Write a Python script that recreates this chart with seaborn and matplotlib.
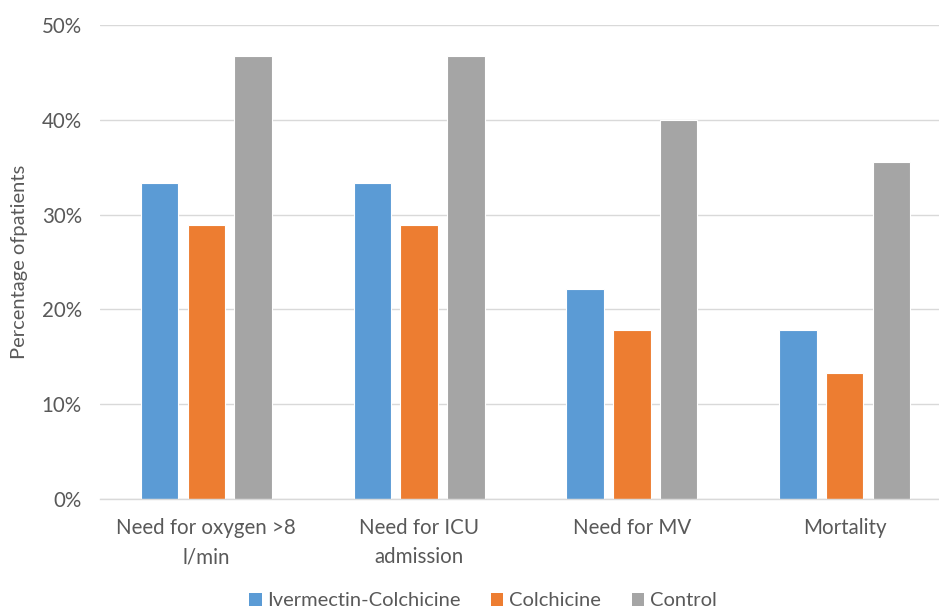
import matplotlib
matplotlib.use("Agg")
import matplotlib.pyplot as plt
import seaborn as sns
import pandas as pd
from matplotlib.ticker import PercentFormatter
from matplotlib.patches import Patch

categories = ["Need for oxygen >8\nl/min", "Need for ICU\nadmission", "Need for MV", "Mortality"]
series_names = ["Ivermectin-Colchicine", "Colchicine", "Control"]
ivermectin_colchicine = [0.333, 0.333, 0.222, 0.178]
colchicine = [0.289, 0.289, 0.178, 0.133]
control = [0.467, 0.467, 0.400, 0.356]
colors = ["#5B9BD5", "#ED7D31", "#A5A5A5"]
yticks = [0, 0.1, 0.2, 0.3, 0.4, 0.5]

rows = []
for name, vals in zip(series_names, [ivermectin_colchicine, colchicine, control]):
    for c, v in zip(categories, vals):
        rows.append({"category": c, "group": name, "value": v})
df = pd.DataFrame(rows)

sns.set_theme(style="white")
plt.rcParams["font.family"] = ["Lato", "DejaVu Sans"]
text_color = "#595959"

fig = plt.figure(figsize=(9.39, 6.10), dpi=100)
ax = fig.add_axes([100/939, 1-499/610, 851/939, (499-25)/610])

sns.barplot(data=df, x="category", y="value", hue="group", order=categories,
            hue_order=series_names, palette=colors, width=0.66, gap=0.2,
            ax=ax, legend=False, saturation=1, edgecolor="white", linewidth=0.8)

ax.set_ylim(0, 0.5)
ax.set_xlim(-0.5, 3.5)
ax.set_yticks(yticks)
ax.yaxis.set_major_formatter(PercentFormatter(1.0, decimals=0))
ax.grid(axis="y", color="#D9D9D9", linewidth=1)
ax.set_axisbelow(True)
for s in ["top", "right", "left"]:
    ax.spines[s].set_visible(False)
ax.spines["bottom"].set_color("#D9D9D9")
ax.spines["bottom"].set_linewidth(1)
ax.tick_params(axis="both", length=0, colors=text_color, labelsize=14.8)
ax.tick_params(axis="x", pad=14)
ax.tick_params(axis="y", pad=13)
for lbl in ax.get_xticklabels():
    lbl.set_linespacing(1.55)
ax.set_xlabel("")
ax.set_ylabel("Percentage ofpatients", color=text_color, fontsize=14.5)
ax.yaxis.set_label_coords(-0.085, 0.5)

handles = [Patch(facecolor=c, edgecolor="none") for c in colors]
fig.legend(handles, series_names, loc="center", bbox_to_anchor=(483/939, 1-601/610),
           ncol=3, frameon=False, fontsize=14.5, labelcolor=text_color,
           handlelength=0.6, handleheight=0.6, handletextpad=0.3, columnspacing=1.5)

fig.savefig("out.png", dpi=100)
